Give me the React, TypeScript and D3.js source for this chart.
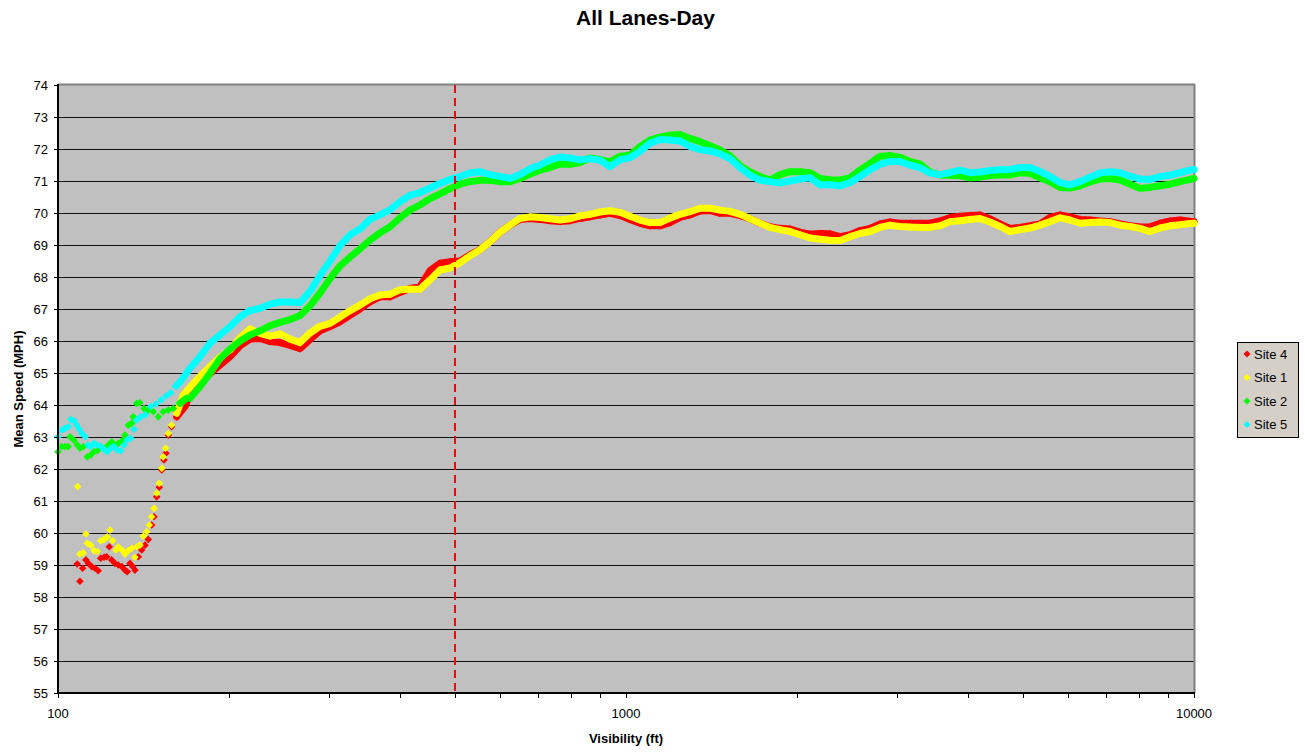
import React from 'react';
import * as d3 from 'd3';

// ---------- DATA ----------
// Sparse low-visibility markers: [visibility ft, mean speed mph]
const site4Sparse: [number, number][] = [
  [108.1, 59.03], [109.3, 58.49], [110.5, 58.9], [112.0, 59.16], [113.1, 59.05], [114.6, 58.95], [116.2, 58.9],
  [117.7, 58.82], [118.9, 59.21], [120.5, 59.24], [121.8, 59.26], [123.1, 59.57], [124.3, 59.16], [126.0, 59.05],
  [127.7, 59.0], [129.5, 58.95], [131.2, 58.84], [132.4, 58.79], [133.9, 59.05], [135.4, 58.95], [136.6, 58.84],
  [138.5, 59.26], [140.4, 59.47], [142.3, 59.62], [144.2, 59.8], [146.2, 60.25], [147.6, 60.51], [149.2, 61.13],
  [150.8, 61.43], [152.3, 61.97], [153.7, 62.28], [154.9, 62.49], [156.4, 63.06], [158.5, 63.32], [161.8, 63.63],
  [167.3, 63.95],
];
const site1Sparse: [number, number][] = [
  [108.3, 61.45], [109.3, 59.34], [110.8, 59.38], [112.0, 59.97], [112.6, 59.68], [114.2, 59.62], [115.7, 59.45],
  [117.3, 59.42], [118.9, 59.76], [120.5, 59.8], [122.1, 59.88], [123.5, 60.09], [124.8, 59.76], [126.5, 59.47],
  [127.7, 59.57], [129.5, 59.47], [131.2, 59.34], [133.0, 59.45], [134.8, 59.52], [136.6, 59.24], [137.6, 59.57],
  [139.4, 59.62], [141.3, 59.9], [143.3, 60.04], [144.8, 60.25], [146.2, 60.51], [147.6, 60.77], [149.2, 61.24],
  [150.8, 61.55], [152.3, 62.02], [153.2, 62.38], [154.7, 62.65], [156.4, 63.11], [158.5, 63.37], [161.8, 63.74],
  [166.2, 64.31],
];
const site2Sparse: [number, number][] = [
  [100, 62.54], [101.5, 62.7], [102.9, 62.7], [104.2, 62.7], [105.0, 63.01], [106.7, 62.9], [108.1, 62.75],
  [109.3, 62.65], [110.8, 62.7], [112.6, 62.38], [114.2, 62.44], [115.7, 62.54], [117.3, 62.57], [118.9, 62.7],
  [121.0, 62.65], [122.6, 62.75], [124.3, 62.85], [126.0, 62.75], [127.7, 62.8], [130.0, 62.9], [131.2, 63.06],
  [133.0, 63.37], [134.8, 63.43], [135.7, 63.63], [137.6, 64.05], [139.4, 64.07], [141.7, 63.89], [144.2, 63.84],
  [147.2, 63.79], [150.2, 63.63], [153.2, 63.79], [156.4, 63.84], [159.6, 63.89], [164.0, 64.05], [168.5, 64.21],
];
const site5Sparse: [number, number][] = [
  [100, 63.01], [101.5, 63.22], [102.9, 63.27], [104.3, 63.32], [105.3, 63.55], [106.7, 63.51], [107.9, 63.37],
  [109.0, 63.24], [110.2, 63.11], [111.7, 63.01], [112.9, 62.75], [114.2, 62.7], [115.7, 62.8], [117.3, 62.75],
  [118.9, 62.7], [120.5, 62.62], [122.1, 62.54], [123.8, 62.65], [125.5, 62.7], [127.2, 62.59], [128.9, 62.57],
  [130.7, 62.75], [132.4, 62.91], [134.3, 62.96], [136.1, 63.24], [137.6, 63.53], [139.8, 63.63], [142.5, 63.69],
  [145.6, 63.95], [148.8, 64.03], [152.0, 64.16], [155.0, 64.28], [157.9, 64.38], [161.3, 64.59], [164.4, 64.74],
];

// Dense part: shared visibility samples (ft)
const visibility: number[] = [
  170.8, 177.8, 185.2, 192.9, 200.9, 209.2, 217.8, 226.8, 236.2, 246.0,
  256.2, 266.8, 277.8, 289.3, 301.3, 313.7, 326.7, 340.2, 354.3, 368.9,
  384.2, 400.1, 416.6, 433.9, 451.8, 470.5, 490.0, 510.3, 531.4, 553.4,
  576.3, 600.1, 624.9, 650.8, 677.7, 705.8, 735.0, 765.4, 797.1, 830.1,
  864.4, 900.1, 937.4, 976.0, 1016, 1058, 1102, 1148, 1195, 1245,
  1296, 1350, 1406, 1464, 1525, 1588, 1654, 1722, 1793, 1867,
  1945, 2025, 2109, 2196, 2287, 2381, 2480, 2582, 2689, 2800,
  2916, 3037, 3162, 3293, 3429, 3571, 3719, 3873, 4033, 4200,
  4374, 4555, 4743, 4940, 5144, 5357, 5579, 5810, 6050, 6301,
  6561, 6833, 7115, 7410, 7717, 8036, 8368, 8715, 9075, 9451,
  9839, 10000,
];
const site4: number[] = [
  64.35, 64.7, 64.98, 65.25, 65.51, 65.85, 66.06, 66.08, 65.98, 65.95,
  65.86, 65.76, 66.05, 66.32, 66.45, 66.6, 66.8, 67.0, 67.22, 67.38,
  67.38, 67.52, 67.64, 67.7, 68.2, 68.43, 68.48, 68.5, 68.69, 68.86,
  69.1, 69.4, 69.62, 69.8, 69.83, 69.8, 69.76, 69.73, 69.76, 69.83,
  69.88, 69.94, 69.99, 69.92, 69.8, 69.68, 69.6, 69.6, 69.7, 69.86,
  69.94, 70.06, 70.08, 69.99, 69.99, 69.92, 69.82, 69.68, 69.57, 69.52,
  69.5, 69.4, 69.34, 69.36, 69.35, 69.26, 69.32, 69.45, 69.52, 69.66,
  69.72, 69.68, 69.68, 69.68, 69.68, 69.75, 69.86, 69.9, 69.92, 69.94,
  69.82, 69.66, 69.52, 69.55, 69.6, 69.66, 69.86, 69.94, 69.88, 69.8,
  69.78, 69.75, 69.73, 69.66, 69.6, 69.56, 69.57, 69.68, 69.75, 69.78,
  69.74, 69.73,
];
const site1: number[] = [
  64.55, 64.9, 65.2, 65.5, 65.72, 66.1, 66.38, 66.24, 66.15, 66.22,
  66.06, 65.95, 66.25, 66.46, 66.55, 66.75, 66.95, 67.12, 67.32, 67.44,
  67.46, 67.6, 67.62, 67.62, 67.91, 68.22, 68.28, 68.45, 68.66, 68.85,
  69.1, 69.4, 69.62, 69.83, 69.88, 69.86, 69.82, 69.78, 69.82, 69.91,
  69.96, 70.03, 70.07, 70.02, 69.9, 69.78, 69.7, 69.7, 69.84, 69.96,
  70.04, 70.15, 70.15, 70.09, 70.05, 69.96, 69.82, 69.68, 69.55, 69.48,
  69.42, 69.32, 69.22, 69.18, 69.15, 69.14, 69.26, 69.36, 69.42, 69.55,
  69.62, 69.58, 69.56, 69.55, 69.55, 69.6, 69.73, 69.76, 69.8, 69.83,
  69.72, 69.58, 69.42, 69.48, 69.53, 69.62, 69.73, 69.85, 69.78, 69.68,
  69.7, 69.72, 69.7, 69.62, 69.58, 69.52, 69.42, 69.53, 69.6, 69.63,
  69.67, 69.68,
];
const site2: number[] = [
  64.21, 64.57, 64.99, 65.45, 65.75, 66.0, 66.19, 66.32, 66.48, 66.58,
  66.67, 66.8, 67.1, 67.5, 67.95, 68.35, 68.62, 68.88, 69.15, 69.38,
  69.57, 69.85, 70.09, 70.25, 70.45, 70.6, 70.76, 70.9, 70.98, 71.02,
  71.02, 70.98, 70.98, 71.08, 71.22, 71.34, 71.42, 71.53, 71.52, 71.58,
  71.72, 71.67, 71.6, 71.77, 71.81, 72.07, 72.28, 72.37, 72.43, 72.45,
  72.33, 72.23, 72.1, 71.97, 71.78, 71.48, 71.28, 71.14, 71.03, 71.2,
  71.29, 71.29, 71.26, 71.08, 71.04, 71.03, 71.1, 71.34, 71.55, 71.77,
  71.8, 71.74, 71.61, 71.53, 71.28, 71.19, 71.18, 71.16, 71.1, 71.12,
  71.17, 71.19, 71.19, 71.26, 71.24, 71.1, 70.98, 70.8, 70.78, 70.85,
  70.97, 71.06, 71.08, 71.03, 70.9, 70.77, 70.8, 70.85, 70.9, 70.98,
  71.05, 71.08,
];
const site5: number[] = [
  65.15, 65.51, 65.93, 66.19, 66.45, 66.76, 66.95, 67.02, 67.15, 67.22,
  67.22, 67.2, 67.55, 68.05, 68.5, 68.98, 69.32, 69.5, 69.8, 69.94,
  70.1, 70.35, 70.55, 70.64, 70.78, 70.92, 71.05, 71.14, 71.25, 71.29,
  71.2, 71.14, 71.08, 71.2, 71.38, 71.5, 71.66, 71.75, 71.72, 71.66,
  71.7, 71.65, 71.45, 71.66, 71.73, 71.92, 72.18, 72.3, 72.28, 72.25,
  72.08, 71.98, 71.94, 71.85, 71.7, 71.42, 71.18, 71.03, 70.98, 70.94,
  71.0, 71.06, 71.1, 70.88, 70.88, 70.85, 70.95, 71.14, 71.35, 71.52,
  71.61, 71.61, 71.5, 71.42, 71.25, 71.2, 71.26, 71.34, 71.26, 71.28,
  71.33, 71.35, 71.36, 71.42, 71.42, 71.3, 71.14, 70.95, 70.88, 70.98,
  71.12, 71.25, 71.29, 71.26, 71.15, 71.06, 71.05, 71.14, 71.18, 71.26,
  71.34, 71.36,
];

const seriesNames = ['Site 4', 'Site 1', 'Site 2', 'Site 5'];
const seriesColors = ['#FF0000', '#FFFF00', '#00FF00', '#00FFFF'];
const sparseData = [site4Sparse, site1Sparse, site2Sparse, site5Sparse];
const denseData = [site4, site1, site2, site5];

const yTickValues = d3.range(55, 75);
const xMajorTicks = [100, 1000, 10000];
const threshold = 500;

const title = 'All Lanes-Day';
const xTitle = 'Visibility (ft)';
const yTitle = 'Mean Speed (MPH)';

// ---------- LAYOUT ----------
const W = 1305, H = 752;
const L = 58, R = 1194, T = 85, B = 693;
const FONT = 'Arial, "Liberation Sans", Helvetica, sans-serif';

function diamonds(pts: [number, number][], r: number): string {
  return pts.map(([cx, cy]) => `M${cx},${cy - r}L${cx + r},${cy}L${cx},${cy + r}L${cx - r},${cy}Z`).join('');
}

export default function App() {
  const x = d3.scaleLog().domain([100, 10000]).range([L, R]);
  const y = d3.scaleLinear().domain([55, 74]).range([B, T]);
  const xTicks = x.ticks();
  const line = d3.line<[number, number]>().x(d => x(d[0])).y(d => y(d[1]));

  const series = seriesNames.map((name, i) => {
    const dense: [number, number][] = visibility.map((v, j) => [v, denseData[i][j]]);
    const all: [number, number][] = [...sparseData[i], ...dense];
    const linePts = all.filter(d => d[0] >= 160);
    return { name, color: seriesColors[i], all, linePts };
  });

  const legendX = 1237, legendY = 342, legendW = 61, legendH = 95;

  return (
    <svg width={W} height={H} style={{ position: 'absolute', left: 0, top: 0, background: '#fff' }} fontFamily={FONT}>
      <rect x={0} y={0} width={W} height={H} fill="#fff" />
      <text x={645.5} y={25} textAnchor="middle" fontSize={21} fontWeight="bold">{title}</text>

      {/* plot area */}
      <rect x={L} y={T} width={R - L} height={B - T} fill="#C0C0C0" />
      {yTickValues.filter(v => v > 55 && v < 74).map(v => (
        <line key={v} x1={L} x2={R} y1={Math.round(y(v)) + 0.5} y2={Math.round(y(v)) + 0.5} stroke="#111" strokeWidth={1} />
      ))}
      {/* border top/right */}
      <line x1={L} x2={R + 1} y1={T - 0.5} y2={T - 0.5} stroke="#808080" strokeWidth={2} />
      <line x1={R + 0.5} x2={R + 0.5} y1={T - 1} y2={B} stroke="#808080" strokeWidth={2} />

      {/* series */}
      {series.map(s => (
        <g key={s.name}>
          <path d={line(s.linePts) || ''} fill="none" stroke={s.color} strokeWidth={7} strokeLinejoin="round" strokeLinecap="round" />
          <path d={diamonds(s.all.map(d => [x(d[0]), y(d[1])] as [number, number]), 3.8)} fill={s.color} />
        </g>
      ))}

      {/* threshold */}
      <line x1={x(threshold)} x2={x(threshold)} y1={T} y2={B} stroke="#FF0000" strokeWidth={2} strokeDasharray="8,5" />

      {/* axes */}
      <line x1={L} x2={L} y1={T - 1} y2={B + 1} stroke="#000" strokeWidth={2} />
      <line x1={L - 1} x2={R + 1} y1={B} y2={B} stroke="#000" strokeWidth={2} />
      {yTickValues.map(v => (
        <g key={v}>
          <line x1={L - 4} x2={L} y1={Math.round(y(v)) + 0.5} y2={Math.round(y(v)) + 0.5} stroke="#000" strokeWidth={1} />
          <text x={48} y={y(v) + 4.7} textAnchor="end" fontSize={13}>{v}</text>
        </g>
      ))}
      {xTicks.map(v => (
        <line key={v} x1={Math.round(x(v)) + 0.5} x2={Math.round(x(v)) + 0.5} y1={B} y2={B + 5} stroke="#000" strokeWidth={1} />
      ))}
      {xMajorTicks.map(v => (
        <text key={v} x={x(v)} y={718} textAnchor="middle" fontSize={13}>{v}</text>
      ))}
      <text x={(L + R) / 2} y={743} textAnchor="middle" fontSize={13} fontWeight="bold">{xTitle}</text>
      <text transform={`translate(22.5,${(T + B) / 2}) rotate(-90)`} textAnchor="middle" fontSize={13} fontWeight="bold">{yTitle}</text>

      {/* legend */}
      <rect x={legendX + 0.5} y={legendY + 0.5} width={legendW} height={legendH} fill="#D4D0C8" stroke="#000" strokeWidth={1} />
      {series.map((s, i) => {
        const cy = legendY + 12 + i * 23.5;
        return (
          <g key={s.name}>
            <path d={diamonds([[legendX + 10, cy]], 3.5)} fill={s.color} />
            <text x={legendX + 17} y={cy + 4.5} fontSize={13}>{s.name}</text>
          </g>
        );
      })}
    </svg>
  );
}
